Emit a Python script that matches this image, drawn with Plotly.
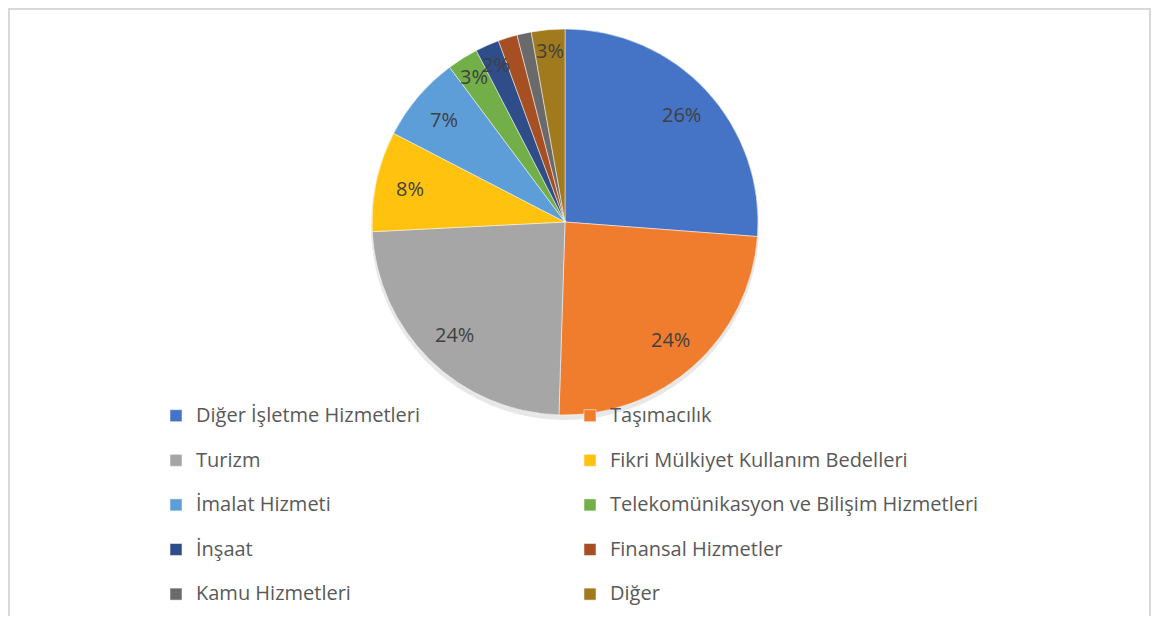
import math
import plotly.graph_objects as go

# sektör payları (%), saat 12'den başlayarak saat yönünde
sectors = ["Diğer İşletme Hizmetleri", "Taşımacılık", "Turizm",
           "Fikri Mülkiyet Kullanım Bedelleri", "İmalat Hizmeti",
           "Telekomünikasyon ve Bilişim Hizmetleri", "İnşaat",
           "Finansal Hizmetler", "Kamu Hizmetleri", "Diğer"]
shares = [26.2, 24.3, 23.7, 8.4, 7.2, 2.6, 2.0, 1.6, 1.2, 2.8]
colors = ["#4573C6", "#F07D2E", "#A6A6A6", "#FFC20E", "#5D9DD8",
          "#72AF49", "#2F4D88", "#A64F22", "#6A6A6A", "#A27A1E"]
no_label = ["Finansal Hizmetler", "Kamu Hizmetleri"]

# the page body has an 8px margin, so the figure is 16px smaller
W, H = 1144, 608
cx, cy, R = 557, 214, 193   # pie centre / radius in figure px

dom_x = [(cx - R) / W, (cx + R) / W]
dom_y = [1 - (cy + R) / H, 1 - (cy - R) / H]

fig = go.Figure()

# soft shadow under the pie
fig.add_trace(go.Pie(
    values=[sum(shares)], labels=["shadow"], showlegend=False,
    domain=dict(x=[(cx - R - 1) / W, (cx + R + 1) / W],
                y=[1 - (cy + R + 5) / H, 1 - (cy - R + 3) / H]),
    marker=dict(colors=["rgba(0,0,0,0.09)"], line=dict(width=0)),
    textinfo="none", hoverinfo="skip", sort=False,
))

# legend names get a blank first line -> ~45px row pitch like the original
fig.add_trace(go.Pie(
    labels=[f' <br><span style="font-size:20px">{s}</span>' for s in sectors],
    values=shares,
    sort=False,
    direction="clockwise",
    rotation=0,
    domain=dict(x=dom_x, y=dom_y),
    marker=dict(colors=colors, line=dict(color="white", width=0.5)),
    textinfo="none",
    hoverinfo="percent",
))

# percentage labels, placed at the slice mid-angle
total = sum(shares)
cum = 0
for name, v in zip(sectors, shares):
    mid = (cum + v / 2) / total * 2 * math.pi
    cum += v
    if name in no_label:
        continue
    r = (0.82 if v / total > 0.05 else 0.89) * R
    px = cx + r * math.sin(mid)
    py = cy - r * math.cos(mid)
    fig.add_annotation(
        x=px / W, y=1 - py / H, xref="paper", yref="paper",
        xanchor="center", yanchor="middle",
        text=f"{round(v / total * 100)}%", showarrow=False,
        font=dict(size=20, color="#404040"),
    )

# frame of the chart area (bottom edge is off the page)
fig.add_shape(type="rect", xref="paper", yref="paper",
              x0=1 / W, x1=1142 / W, y0=-0.05, y1=1 - 1 / H,
              line=dict(color="#D9D9D9", width=2), layer="below")

fig.update_layout(
    width=W, height=H,
    margin=dict(l=0, r=0, t=0, b=0),
    paper_bgcolor="white",
    plot_bgcolor="white",
    font=dict(family="Open Sans, Lato, sans-serif", color="#595959"),
    legend=dict(
        orientation="h",
        x=148 / W, xanchor="left",
        y=5 / H, yanchor="bottom",
        entrywidth=369, entrywidthmode="pixels",
        valign="bottom",
        font=dict(size=16, color="#595959"),
        bgcolor="rgba(0,0,0,0)",
        itemclick=False,
    ),
)

fig.write_html("out.html")
